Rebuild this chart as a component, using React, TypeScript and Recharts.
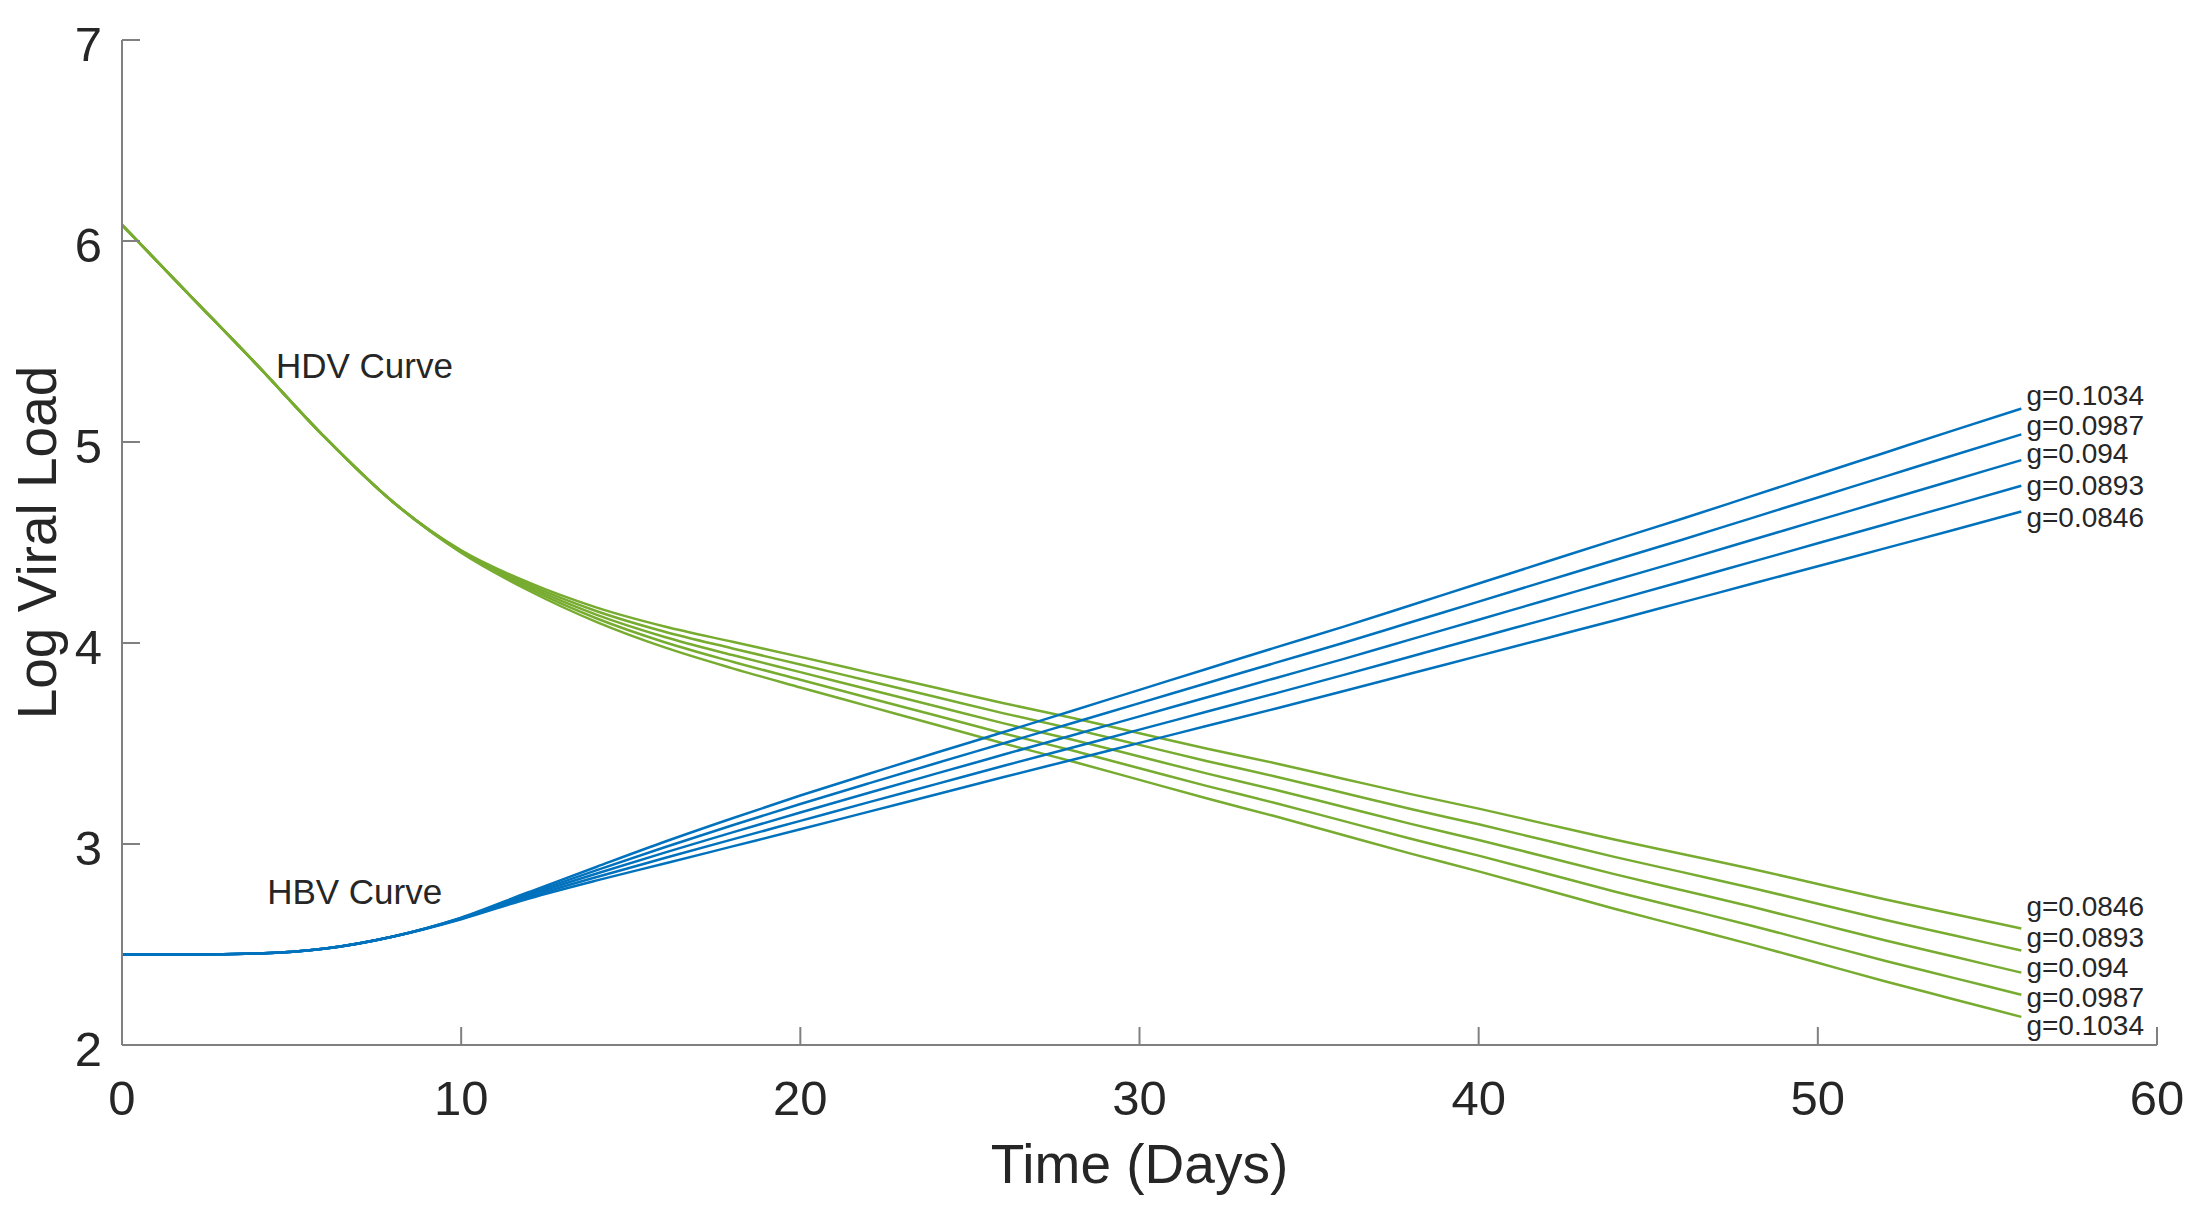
import React from "react";
import { LineChart, Line, XAxis, YAxis, ReferenceDot } from "recharts";

const FONT = "'Liberation Sans', Arial, Helvetica, sans-serif";
const TEXT = "#262626";
const AXIS = "#808080";
const BLUE = "#0072BD";
const GREEN = "#77AC30";

const days = [0, 2, 4, 6, 8, 10, 12, 14, 16, 18, 20, 22, 24, 26, 28, 30, 32, 34, 36, 38, 40, 42, 44, 46, 48, 50, 52, 54, 56];

const gValues = ["0.0846", "0.0893", "0.094", "0.0987", "0.1034"];

// HDV (green), one per g
const hdv0846 = [6.08, 5.73, 5.38, 5.02, 4.7, 4.461, 4.3, 4.176, 4.082, 4.006, 3.931, 3.854, 3.777, 3.7, 3.628, 3.551, 3.474, 3.402, 3.325, 3.248, 3.176, 3.099, 3.022, 2.95, 2.878, 2.801, 2.724, 2.652, 2.58];
const hdv0893 = [6.08, 5.73, 5.38, 5.02, 4.7, 4.458, 4.29, 4.158, 4.056, 3.973, 3.893, 3.812, 3.731, 3.65, 3.574, 3.493, 3.412, 3.336, 3.255, 3.174, 3.098, 3.017, 2.936, 2.86, 2.784, 2.703, 2.622, 2.546, 2.47];
const hdv0940 = [6.08, 5.73, 5.38, 5.02, 4.7, 4.455, 4.28, 4.14, 4.03, 3.94, 3.855, 3.77, 3.685, 3.6, 3.52, 3.435, 3.35, 3.27, 3.185, 3.1, 3.02, 2.935, 2.85, 2.77, 2.69, 2.605, 2.52, 2.44, 2.36];
const hdv0987 = [6.08, 5.73, 5.38, 5.02, 4.7, 4.452, 4.27, 4.122, 4.004, 3.907, 3.817, 3.728, 3.639, 3.55, 3.466, 3.377, 3.288, 3.204, 3.115, 3.026, 2.942, 2.853, 2.764, 2.68, 2.596, 2.507, 2.418, 2.334, 2.25];
const hdv1034 = [6.08, 5.73, 5.38, 5.02, 4.7, 4.449, 4.26, 4.104, 3.978, 3.874, 3.779, 3.686, 3.593, 3.5, 3.412, 3.319, 3.226, 3.138, 3.045, 2.952, 2.864, 2.771, 2.678, 2.59, 2.502, 2.409, 2.316, 2.228, 2.14];

// HBV (blue), one per g
const hbv0846 = [2.45, 2.45, 2.455, 2.48, 2.54, 2.626, 2.729, 2.819, 2.903, 2.988, 3.073, 3.16, 3.246, 3.333, 3.418, 3.503, 3.588, 3.673, 3.76, 3.848, 3.936, 4.024, 4.112, 4.202, 4.292, 4.382, 4.472, 4.562, 4.654];
const hbv0893 = [2.45, 2.45, 2.455, 2.48, 2.54, 2.628, 2.737, 2.836, 2.93, 3.023, 3.115, 3.207, 3.298, 3.389, 3.479, 3.569, 3.659, 3.749, 3.84, 3.933, 4.026, 4.119, 4.212, 4.306, 4.401, 4.496, 4.591, 4.686, 4.782];
const hbv0940 = [2.45, 2.45, 2.455, 2.48, 2.54, 2.63, 2.745, 2.853, 2.957, 3.058, 3.157, 3.254, 3.35, 3.445, 3.54, 3.635, 3.73, 3.825, 3.92, 4.018, 4.116, 4.214, 4.312, 4.41, 4.51, 4.61, 4.71, 4.81, 4.91];
const hbv0987 = [2.45, 2.45, 2.455, 2.48, 2.54, 2.632, 2.753, 2.87, 2.984, 3.093, 3.199, 3.301, 3.402, 3.501, 3.601, 3.701, 3.801, 3.901, 4.0, 4.103, 4.206, 4.309, 4.412, 4.514, 4.619, 4.724, 4.829, 4.934, 5.038];
const hbv1034 = [2.45, 2.45, 2.455, 2.48, 2.54, 2.634, 2.761, 2.887, 3.011, 3.128, 3.241, 3.348, 3.454, 3.557, 3.662, 3.767, 3.872, 3.977, 4.08, 4.188, 4.296, 4.404, 4.512, 4.618, 4.728, 4.838, 4.948, 5.058, 5.166];

const xTicks = [0, 10, 20, 30, 40, 50, 60];
const yTicks = [2, 3, 4, 5, 6, 7];

const hdvSeries = [hdv0846, hdv0893, hdv0940, hdv0987, hdv1034];
const hbvSeries = [hbv0846, hbv0893, hbv0940, hbv0987, hbv1034];

// where the g= labels sit (data units, text baseline)
const labelX = 56.15;
const hbvLabelY = [4.577, 4.736, 4.896, 5.035, 5.184];
const hdvLabelY = [2.64, 2.49, 2.34, 2.19, 2.05];

const rows = days.map((t, i) => {
  const r: any = { t };
  hdvSeries.forEach((s, k) => (r[`hdv${k}`] = s[i]));
  hbvSeries.forEach((s, k) => (r[`hbv${k}`] = s[i]));
  return r;
});

const XTick = ({ x, y, payload }: any) => (
  <g>
    <line x1={x} x2={x} y1={y} y2={y - 18} stroke={AXIS} strokeWidth={2} />
    <text x={x} y={y + 70} textAnchor="middle" fontSize={49} fontFamily={FONT} fill={TEXT}>
      {payload.value}
    </text>
  </g>
);

const YTick = ({ x, y, payload }: any) => (
  <g>
    <line x1={x} x2={x + 18} y1={y} y2={y} stroke={AXIS} strokeWidth={2} />
    <text x={x - 20} y={y + 21} textAnchor="end" fontSize={49} fontFamily={FONT} fill={TEXT}>
      {payload.value}
    </text>
  </g>
);

const textShape = (label: string, size: number) => (props: any) => (
  <text x={props.cx} y={props.cy} fontSize={size} fontFamily={FONT} fill={TEXT}>
    {label}
  </text>
);

export default function App() {
  return (
    <div style={{ position: "absolute", left: 0, top: 0, width: 2201, height: 1224, background: "#fff" }}>
      <LineChart width={2201} height={1224} data={rows} margin={{ top: 40, right: 44, bottom: 0, left: 0 }}>
        <XAxis
          type="number"
          dataKey="t"
          domain={[0, 60]}
          ticks={xTicks}
          height={179}
          tickSize={0}
          tickMargin={0}
          tickLine={false}
          axisLine={{ stroke: AXIS, strokeWidth: 2 }}
          tick={<XTick />}
          label={{
            content: ({ viewBox }: any) => (
              <text
                x={viewBox.x + viewBox.width / 2}
                y={viewBox.y + 138}
                textAnchor="middle"
                fontSize={55}
                fontFamily={FONT}
                fill={TEXT}
              >
                Time (Days)
              </text>
            ),
          }}
        />
        <YAxis
          type="number"
          domain={[2, 7]}
          ticks={yTicks}
          width={122}
          tickSize={0}
          tickMargin={0}
          tickLine={false}
          axisLine={{ stroke: AXIS, strokeWidth: 2 }}
          tick={<YTick />}
          label={{
            content: ({ viewBox }: any) => {
              const cx = 56;
              const cy = viewBox.y + viewBox.height / 2;
              return (
                <text
                  x={cx}
                  y={cy}
                  transform={`rotate(-90 ${cx} ${cy})`}
                  textAnchor="middle"
                  fontSize={55}
                  fontFamily={FONT}
                  fill={TEXT}
                >
                  Log Viral Load
                </text>
              );
            },
          }}
        />
        {hdvSeries.map((_, k) => (
          <Line
            key={`hdv${k}`}
            dataKey={`hdv${k}`}
            type="monotone"
            stroke={GREEN}
            strokeWidth={2.5}
            dot={false}
            activeDot={false}
            isAnimationActive={false}
          />
        ))}
        {hbvSeries.map((_, k) => (
          <Line
            key={`hbv${k}`}
            dataKey={`hbv${k}`}
            type="monotone"
            stroke={BLUE}
            strokeWidth={2.5}
            dot={false}
            activeDot={false}
            isAnimationActive={false}
          />
        ))}
        <ReferenceDot x={4.54} y={5.32} r={0} shape={textShape("HDV Curve", 35)} />
        <ReferenceDot x={4.28} y={2.7} r={0} shape={textShape("HBV Curve", 35)} />
        {gValues.map((g, k) => (
          <ReferenceDot key={`lb${k}`} x={labelX} y={hbvLabelY[k]} r={0} shape={textShape(`g=${g}`, 28)} />
        ))}
        {gValues.map((g, k) => (
          <ReferenceDot key={`ld${k}`} x={labelX} y={hdvLabelY[k]} r={0} shape={textShape(`g=${g}`, 28)} />
        ))}
      </LineChart>
    </div>
  );
}
